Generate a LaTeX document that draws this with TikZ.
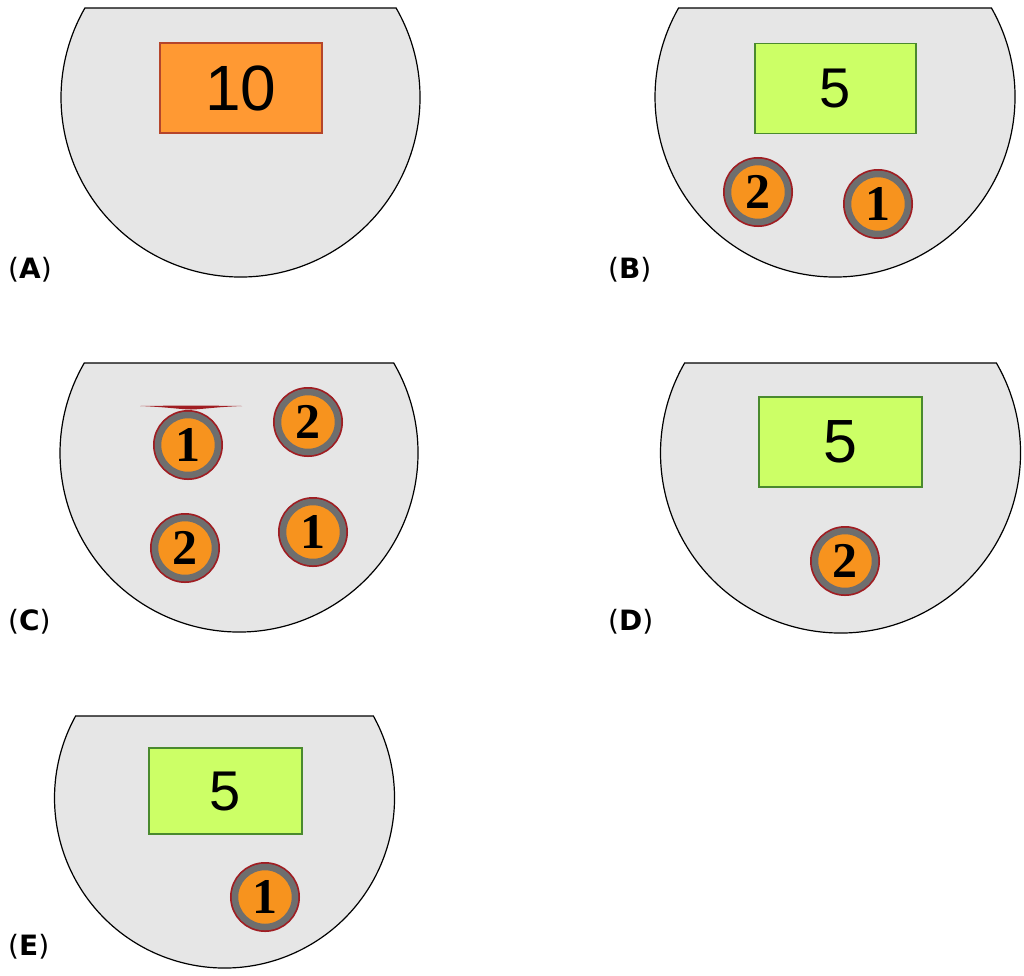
\documentclass[tikz,border=0pt]{standalone}
\usepackage{fontspec}
\setmainfont{Liberation Sans}
\newfontfamily\labelfont{DejaVu Sans}
\newfontfamily\coinfont{Liberation Serif}
\usetikzlibrary{calc}
\definecolor{bowlgray}{HTML}{E6E6E6}
\definecolor{tenfill}{HTML}{FF9933}
\definecolor{tenedge}{HTML}{B5452B}
\definecolor{fivefill}{HTML}{CCFF66}
\definecolor{fiveedge}{HTML}{4A8A2E}
\definecolor{coinor}{HTML}{F7931E}
\definecolor{coingray}{HTML}{6E6E6E}
\definecolor{coinred}{HTML}{A01D22}
\tikzset{
  bowl/.style={fill=bowlgray, draw=black, line width=1.2pt},
  tenbox/.style={rectangle, fill=tenfill, draw=tenedge, line width=1.2pt, inner sep=0pt,
    minimum width=162pt, minimum height=90pt, font=\fontsize{64}{64}\selectfont},
  fivebox/.style={rectangle, fill=fivefill, draw=fiveedge, line width=1.2pt, inner sep=0pt,
    minimum width=161pt, minimum height=90pt},
  coin/.style={circle, inner sep=0pt, minimum size=60pt, fill=coinor, draw=coingray,
    line width=6.5pt, preaction={draw=coinred, line width=10pt},
    font=\coinfont\bfseries\fontsize{50}{50}\selectfont},
  lbl/.style={anchor=west, inner sep=0pt, font=\labelfont\fontsize{28}{28}\selectfont},
  lens/.style={fill=coinred}
}
\newcommand\bowlshape[4]{%
  \pgfmathsetmacro\bowlang{asin((#4-#2)/#3)}%
  \draw[bowl] ($(#1,#2)+(\bowlang:#3)$) arc[start angle=\bowlang, end angle=180-\bowlang, radius=#3] -- cycle;
}
\begin{document}
\begin{tikzpicture}[x=1pt,y=-1pt]
\useasboundingbox[fill=white] (0,0) rectangle (1024,975);

% (A)
\bowlshape{240.5}{97.5}{179.5}{8}
\node[tenbox] (tenA) at (241,88) {10};
\node[lbl] (labA) at (8,270) {(\textbf{A})};

% (B)
\bowlshape{835}{97}{180}{8}
\node[fivebox, font=\fontsize{56}{56}\selectfont] (fiveB) at (835.5,88.5) {5};
\node[coin] (cB2) at (758,192) {2};
\node[coin] (cB1) at (878,204) {1};
\node[lbl] (labB) at (608,270) {(\textbf{B})};

% (C)
\bowlshape{239}{453}{179}{363}
\fill[lens] (140,406) .. controls (175,405.5) and (207,405.5) .. (242,406)
  .. controls (215,407) and (200,409.5) .. (191,409.5)
  .. controls (182,409.5) and (167,407) .. cycle;
\node[coin] (cC1a) at (188,445) {1};
\node[coin] (cC2a) at (308,422) {2};
\node[coin] (cC2b) at (185,548) {2};
\node[coin] (cC1b) at (313,532) {1};
\node[lbl] (labC) at (8,622) {(\textbf{C})};

% (D)
\bowlshape{840.5}{453}{180}{363}
\node[fivebox, minimum width=163pt, font=\fontsize{61}{61}\selectfont] (fiveD) at (840.5,442) {5};
\node[coin] (cD2) at (845,561) {2};
\node[lbl] (labD) at (608,622) {(\textbf{D})};

% (E)
\bowlshape{224.5}{798}{170}{716}
\node[fivebox, minimum width=153pt, minimum height=86pt, font=\fontsize{56}{56}\selectfont] (fiveE) at (225.5,791) {5};
\node[coin] (cE1) at (265,897) {1};
\node[lbl] (labE) at (8,947) {(\textbf{E})};
\end{tikzpicture}
\end{document}
